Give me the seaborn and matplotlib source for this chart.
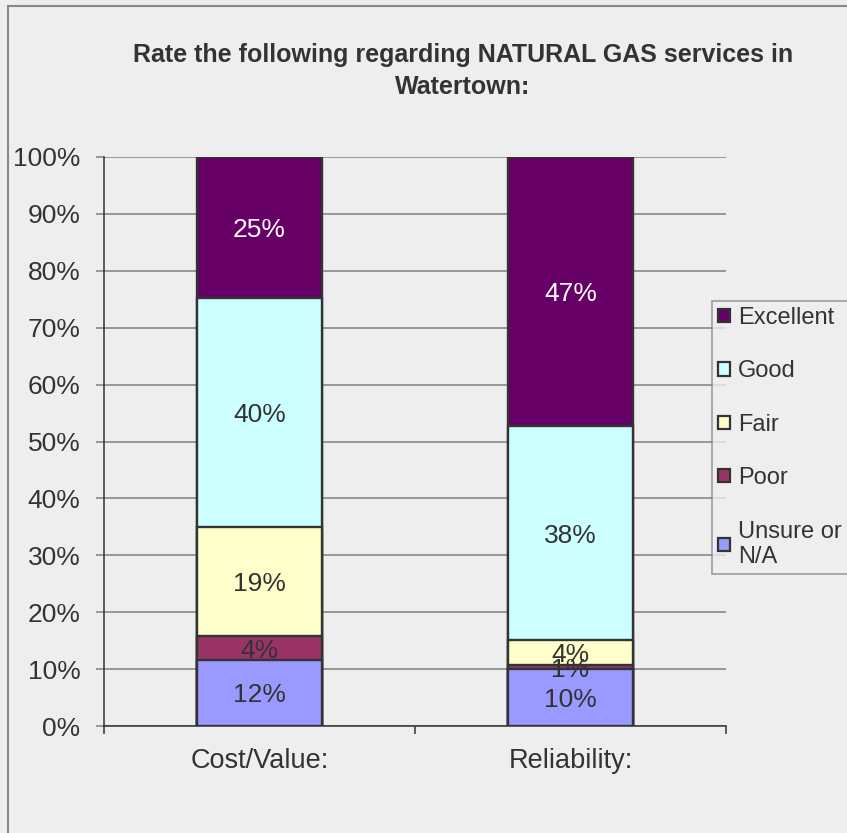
import matplotlib
matplotlib.use("Agg")
import matplotlib.pyplot as plt
import seaborn as sns
import pandas as pd
import numpy as np
from matplotlib.patches import Rectangle, Patch

# ---- data ----
categories = ["Cost/Value:", "Reliability:"]
series = ["Unsure or N/A", "Poor", "Fair", "Good", "Excellent"]
unsure = [11.6, 10.0]
poor = [4.2, 0.7]
fair = [19.2, 4.4]
good = [40.2, 37.6]
excellent = [24.8, 47.3]
yticks = list(range(0, 101, 10))
ytick_labels = [f"{v}%" for v in yticks]
title_text = "Rate the following regarding NATURAL GAS services in\nWatertown:"
legend_labels = {"Unsure or N/A": "Unsure or\nN/A"}

colors = {
    "Unsure or N/A": "#9999FF",
    "Poor": "#993366",
    "Fair": "#FFFFCC",
    "Good": "#CCFFFF",
    "Excellent": "#660066",
}
label_colors = {
    "Unsure or N/A": "#333333",
    "Poor": "#333333",
    "Fair": "#333333",
    "Good": "#333333",
    "Excellent": "#FFFFFF",
}

values = {"Unsure or N/A": unsure, "Poor": poor, "Fair": fair,
          "Good": good, "Excellent": excellent}

rows = []
for ci, cat in enumerate(categories):
    bottom = 0.0
    for s in series:
        v = values[s][ci]
        rows.append({"category": cat, "series": s, "value": v,
                     "bottom": bottom, "top": bottom + v})
        bottom += v
df = pd.DataFrame(rows)

# ---- style ----
sns.set_theme(style="white")
plt.rcParams["font.family"] = ["Liberation Sans", "DejaVu Sans"]
BG = "#EEEEEE"
TXT = "#333333"

fig = plt.figure(figsize=(8.47, 8.33), dpi=100, facecolor=BG)
ax = fig.add_axes([104 / 847, 1 - 726 / 833, (726 - 104) / 847, (726 - 157) / 833])
ax.set_facecolor(BG)

# draw stacked bars: tallest cumulative first so lower segments overlay
for s in reversed(series):
    sub = df[df["series"] == s]
    sns.barplot(data=sub, x="category", y="top", order=categories,
                color=colors[s], saturation=1, width=0.4,
                edgecolor="#333333", linewidth=1.7, ax=ax, zorder=3)

# data labels
for _, r in df.iterrows():
    ci = categories.index(r["category"])
    ax.text(ci, r["bottom"] + r["value"] / 2, f"{round(r['value'])}%",
            ha="center", va="center_baseline", fontsize=19,
            color=label_colors[r["series"]], zorder=5)

ax.set_xlim(-0.5, len(categories) - 0.5)
ax.set_ylim(0, 100)
ax.set_yticks(yticks)
ax.set_yticklabels(ytick_labels)
ax.set_xlabel("")
ax.set_ylabel("")
ax.yaxis.grid(True, color="#808080", linewidth=1.1, zorder=0)
ax.set_axisbelow(True)

for sp in ["top", "right"]:
    ax.spines[sp].set_visible(False)
for sp in ["left", "bottom"]:
    ax.spines[sp].set_color("#333333")
    ax.spines[sp].set_linewidth(1.1)

ax.tick_params(axis="y", which="major", length=6, width=1.1, color="#808080",
               labelsize=19, labelcolor=TXT, pad=11, left=True)
ax.tick_params(axis="x", which="major", length=0, labelsize=19.5,
               labelcolor=TXT, pad=16)
ax.set_xticks(np.arange(-0.5, len(categories), 1.0), minor=True)
ax.tick_params(axis="x", which="minor", length=6, width=1.1, color="#333333",
               bottom=True)

# title
fig.text(463 / 847, 1 - 71 / 833, title_text, ha="center", va="center",
         fontsize=18, fontweight="bold", color=TXT, linespacing=1.4)

# legend
handles = [Patch(facecolor=colors[s], edgecolor="#333333", linewidth=1.6)
           for s in reversed(series)]
labels = [legend_labels.get(s, s) for s in reversed(series)]
leg = fig.legend(handles, labels, loc="upper left",
                 bbox_to_anchor=(712 / 847, 1 - 301 / 833),
                 frameon=True, fancybox=False, fontsize=17,
                 handlelength=0.5, handleheight=0.5, handletextpad=0.35,
                 labelspacing=1.33, borderpad=0.25, borderaxespad=0)
leg.get_frame().set_facecolor(BG)
leg.get_frame().set_edgecolor("#808080")
leg.get_frame().set_linewidth(1.1)
for t in leg.get_texts():
    t.set_color(TXT)

# outer chart border
fig.patches.append(Rectangle((8 / 847, -0.05), 1.2, 1 - 6 / 833 + 0.05,
                             transform=fig.transFigure, fill=False,
                             edgecolor="#888888", linewidth=1.5))

fig.savefig("out.png", dpi=100, facecolor=BG)
